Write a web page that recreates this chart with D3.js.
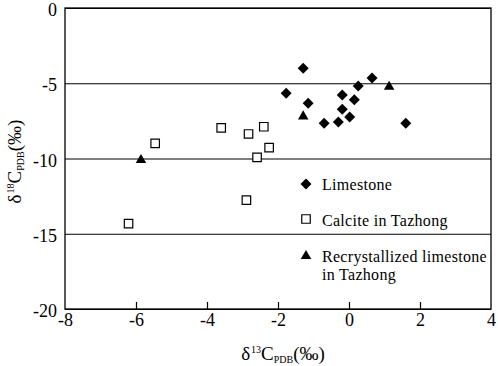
<!DOCTYPE html>
<html>
<head>
<meta charset="utf-8">
<script src="https://cdn.jsdelivr.net/npm/d3@7"></script>
</head>
<body style="margin:0">
<svg id="chart" width="498" height="366"></svg>
<script>
// limestone (filled diamonds)
const limeX = [-1.29, -1.77, -1.15, -0.70, -0.30, -0.19, -0.19, 0.02, 0.15, 0.26, 0.65, 1.60];
const limeY = [-4.01, -5.67, -6.33, -7.66, -7.57, -5.78, -6.73, -7.24, -6.09, -5.18, -4.65, -7.66];
// calcite in Tazhong (hollow squares)
const calX = [-5.46, -3.60, -2.83, -2.40, -2.25, -2.59, -2.89, -6.21];
const calY = [-8.99, -7.97, -8.37, -7.89, -9.28, -9.92, -12.76, -14.33];
// recrystallized limestone (filled triangles)
const recX = [-1.29, 1.13, -5.86];
const recY = [-7.2, -5.23, -10.1];

const xTicks = [-8, -6, -4, -2, 0, 2, 4];
const yTicks = [0, -5, -10, -15, -20];
const legendNames = ['Limestone', 'Calcite in Tazhong', 'Recrystallized limestone', 'in Tazhong'];

const drawChart = () => {
  const FONT = "'Liberation Serif'";
  const svg = d3.select('#chart');
  const margin = { top: 8, right: 7, bottom: 57, left: 65 };
  const svgW = +svg.attr('width');
  const svgH = +svg.attr('height');
  const plotW = svgW - margin.left - margin.right;
  const plotH = svgH - margin.top - margin.bottom;

  const g = svg.append('g')
    .attr('transform', `translate(${margin.left}, ${margin.top})`);

  const xScale = d3.scaleLinear().domain([-8, 4]).range([0, plotW]);
  const yScale = d3.scaleLinear().domain([-20, 0]).range([plotH, 0]);

  const axisStyle = sel => {
    sel.attr('font-family', null).attr('font-size', null);
    sel.selectAll('.domain').remove();
    sel.selectAll('line').attr('stroke', '#000').attr('stroke-width', 1.2);
    sel.selectAll('text')
      .style('font-family', FONT)
      .attr('font-size', 18)
      .attr('fill', '#000');
  };

  // y gridlines + labels
  g.append('g')
    .call(d3.axisLeft(yScale).tickValues(yTicks).tickFormat(d => String(d))
      .tickSize(-plotW).tickPadding(8))
    .call(axisStyle)
    .call(a => a.selectAll('text').attr('dy', '0.42em'));

  // x ticks (inward) + labels
  g.append('g')
    .attr('transform', `translate(0, ${plotH})`)
    .call(d3.axisBottom(xScale).tickValues(xTicks).tickFormat(d => String(d))
      .tickSizeInner(-7).tickSizeOuter(0).tickPadding(4))
    .call(axisStyle)
    .call(a => a.selectAll('.tick').filter(d => d === -8 || d === 4).select('line').remove());

  // frame
  g.append('rect')
    .attr('width', plotW)
    .attr('height', plotH)
    .attr('fill', 'none')
    .attr('stroke', '#000')
    .attr('stroke-width', 1.3);

  const diamond = d3.symbol().type(d3.symbolSquare).size(60);
  const square = d3.symbol().type(d3.symbolSquare).size(72);
  const tri = d3.symbol().type(d3.symbolTriangle).size(48);

  g.selectAll('.lime').data(d3.zip(limeX, limeY)).enter().append('path')
    .attr('class', 'lime')
    .attr('d', diamond)
    .attr('transform', d => `translate(${xScale(d[0])}, ${yScale(d[1])}) rotate(45)`)
    .attr('fill', '#000');

  g.selectAll('.cal').data(d3.zip(calX, calY)).enter().append('path')
    .attr('class', 'cal')
    .attr('d', square)
    .attr('transform', d => `translate(${xScale(d[0])}, ${yScale(d[1])})`)
    .attr('fill', '#fff')
    .attr('stroke', '#000')
    .attr('stroke-width', 1.2);

  g.selectAll('.rec').data(d3.zip(recX, recY)).enter().append('path')
    .attr('class', 'rec')
    .attr('d', tri)
    .attr('transform', d => `translate(${xScale(d[0])}, ${yScale(d[1])})`)
    .attr('fill', '#000');

  // legend
  const lgX = 306;
  svg.append('path').attr('d', diamond)
    .attr('transform', `translate(${lgX}, 184) rotate(45)`).attr('fill', '#000');
  svg.append('path').attr('d', square)
    .attr('transform', `translate(${lgX}, 219)`)
    .attr('fill', '#fff').attr('stroke', '#000').attr('stroke-width', 1.2);
  svg.append('path').attr('d', tri)
    .attr('transform', `translate(${lgX}, 256)`).attr('fill', '#000');

  const lgY = [190, 226, 262, 280];
  svg.selectAll('.lg-text').data(legendNames).enter().append('text')
    .attr('class', 'lg-text')
    .attr('x', 322)
    .attr('y', (d, i) => lgY[i])
    .attr('font-size', 16)
    .attr('letter-spacing', 0.3)
    .style('font-family', FONT)
    .text(d => d);

  // axis titles
  const axisTitle = (sel, sup) => {
    sel.attr('font-size', 19).style('font-family', FONT).attr('text-anchor', 'middle');
    sel.append('tspan').text('δ');
    sel.append('tspan').attr('font-size', 10).attr('dy', -7).attr('dx', 1).text(sup);
    sel.append('tspan').attr('dy', 7).text('C');
    sel.append('tspan').attr('font-size', 10).attr('dy', 3).text('PDB');
    sel.append('tspan').attr('dy', -3).text('(‰)');
  };

  svg.append('text')
    .attr('x', margin.left + plotW / 2 + 5)
    .attr('y', 360)
    .call(axisTitle, '13');

  svg.append('text')
    .attr('transform', `translate(21, ${margin.top + plotH / 2 + 3}) rotate(-90)`)
    .call(axisTitle, '18');
};

drawChart();
</script>
</body>
</html>
